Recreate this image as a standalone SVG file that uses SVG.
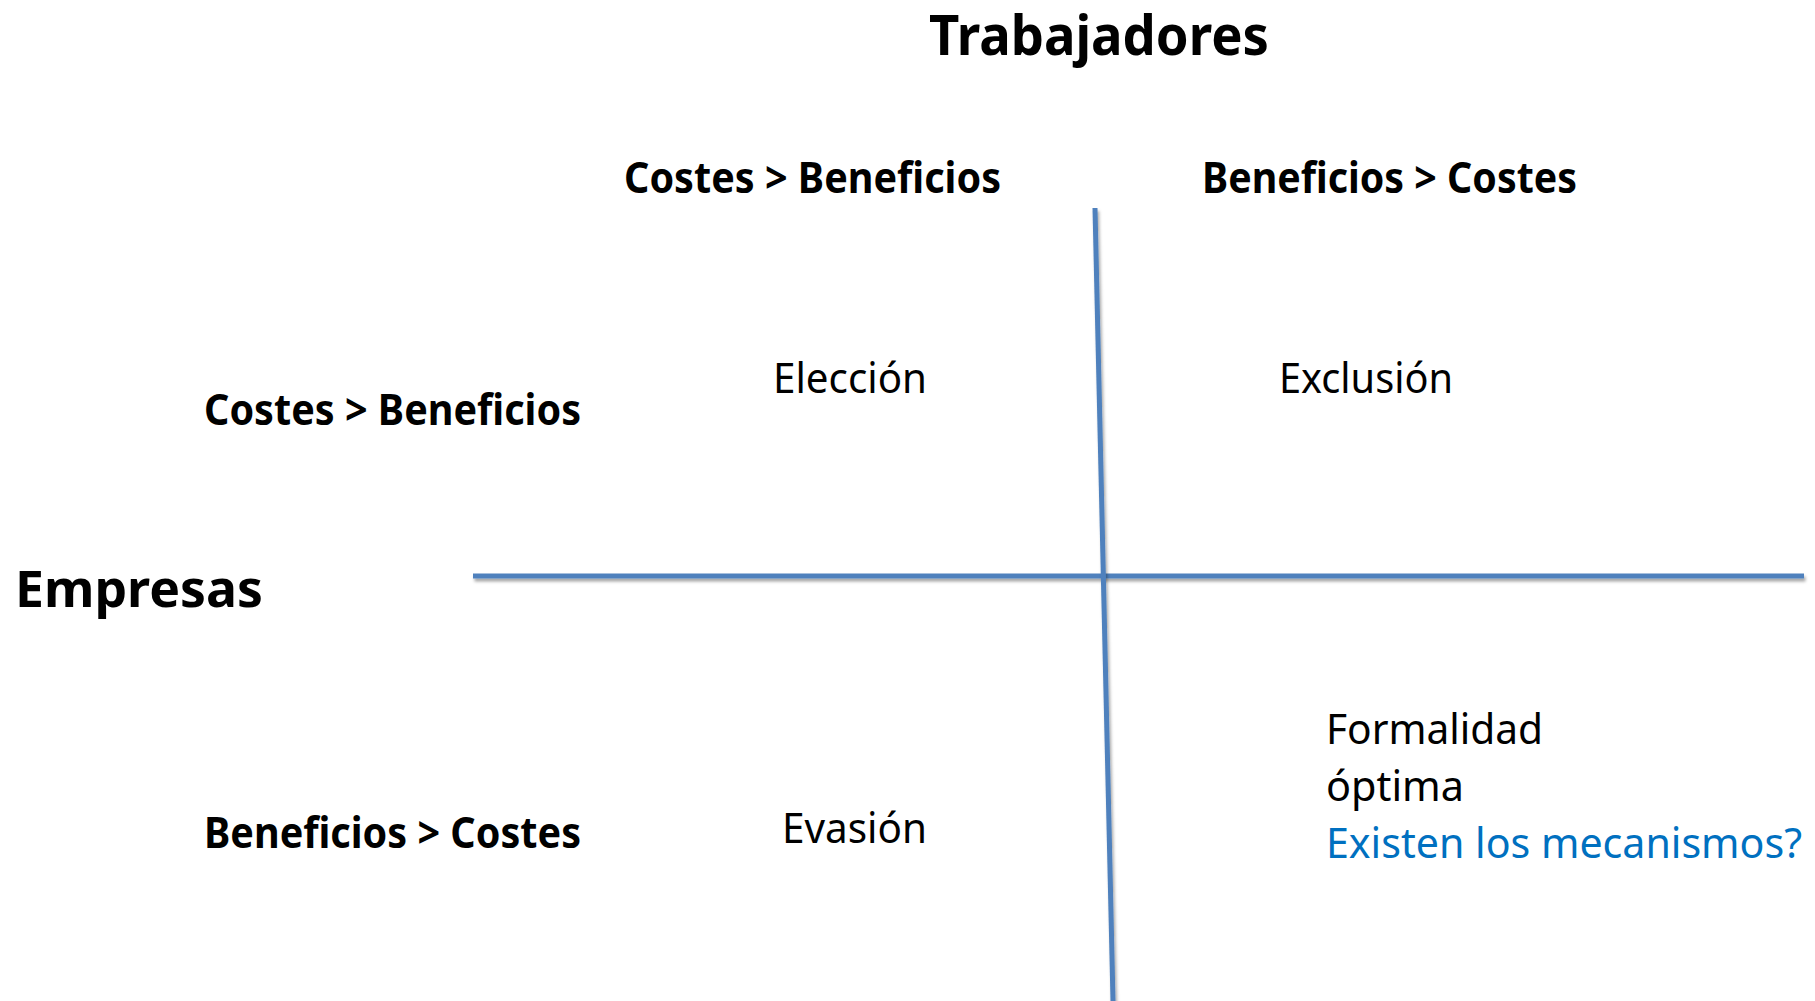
<svg xmlns="http://www.w3.org/2000/svg" width="1815" height="1001" viewBox="0 0 1815 1001">
<style>
.b{font-family:"Noto Sans","Open Sans","Liberation Sans",sans-serif;font-weight:bold;fill:#000}
.r{font-family:"Noto Sans","Open Sans","Liberation Sans",sans-serif;fill:#000}
.ax{stroke:#4F81BD;stroke-width:5;fill:none;filter:url(#sh)}
</style>
<defs>
<filter id="sh" filterUnits="userSpaceOnUse" x="0" y="0" width="1815" height="1001">
<feDropShadow dx="1.5" dy="3" stdDeviation="1.5" flood-color="#000" flood-opacity="0.35"/>
</filter>
</defs>
<rect width="1815" height="1001" fill="#fff"/>
<g id="connectors">
<line class="ax" x1="473" y1="576" x2="1804" y2="576"/>
<line class="ax" x1="1095" y1="208" x2="1113" y2="1001"/>
</g>
<g id="title-trabajadores"><text class="b" x="929" y="55" font-size="56" textLength="340" lengthAdjust="spacingAndGlyphs">Trabajadores</text></g>
<g id="col-costes"><text class="b" x="624" y="193" font-size="43.5" textLength="377" lengthAdjust="spacingAndGlyphs">Costes &gt; Beneficios</text></g>
<g id="col-beneficios"><text class="b" x="1202" y="193" font-size="43.5" textLength="375" lengthAdjust="spacingAndGlyphs">Beneficios &gt; Costes</text></g>
<g id="title-empresas"><text class="b" x="15" y="607" font-size="50" textLength="248" lengthAdjust="spacingAndGlyphs">Empresas</text></g>
<g id="row-costes"><text class="b" x="204" y="425" font-size="43.5" textLength="377" lengthAdjust="spacingAndGlyphs">Costes &gt; Beneficios</text></g>
<g id="row-beneficios"><text class="b" x="204" y="848" font-size="43.5" textLength="377" lengthAdjust="spacingAndGlyphs">Beneficios &gt; Costes</text></g>
<g id="q-eleccion"><text class="r" x="773" y="393" font-size="42" textLength="154" lengthAdjust="spacingAndGlyphs">Elección</text></g>
<g id="q-exclusion"><text class="r" x="1279" y="393" font-size="42" textLength="174" lengthAdjust="spacingAndGlyphs">Exclusión</text></g>
<g id="q-evasion"><text class="r" x="782" y="843" font-size="42" textLength="145" lengthAdjust="spacingAndGlyphs">Evasión</text></g>
<g id="q-formalidad">
<text class="r" x="1326" y="744" font-size="42" textLength="217" lengthAdjust="spacingAndGlyphs">Formalidad</text>
<text class="r" x="1326" y="801" font-size="42" textLength="138" lengthAdjust="spacingAndGlyphs">óptima</text>
<text class="r" x="1326" y="858" font-size="42" textLength="476" lengthAdjust="spacingAndGlyphs" style="fill:#0070C0">Existen los mecanismos?</text>
</g>
</svg>
